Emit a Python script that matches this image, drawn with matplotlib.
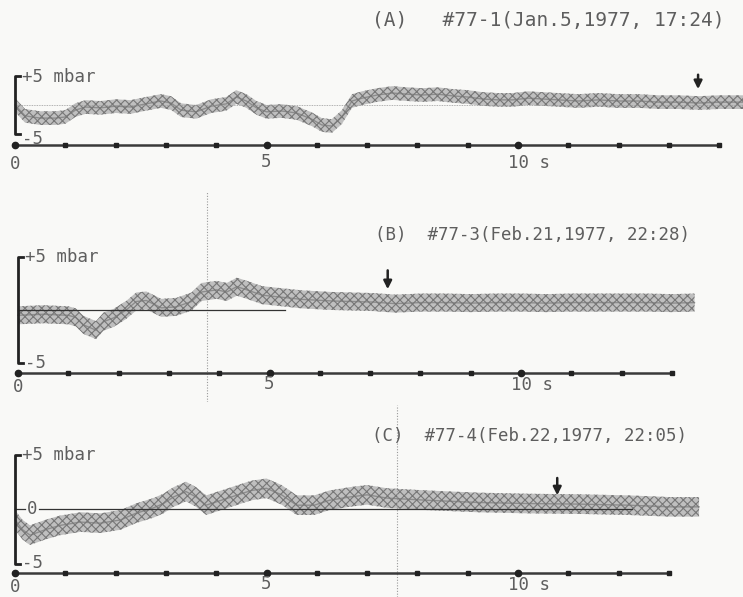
import matplotlib
matplotlib.use("Agg")
import matplotlib.pyplot as plt

# pressure traces (time in s, pressure in mbar)
t_a = [0.0, 0.2, 0.5, 0.8, 1.0, 1.2, 1.4, 1.7, 2.0, 2.3, 2.6, 2.9, 3.1, 3.3, 3.6,
       3.9, 4.2, 4.4, 4.6, 4.8, 5.0, 5.3, 5.6, 5.9, 6.1, 6.3, 6.5, 6.7, 6.9, 7.2,
       7.5, 7.8, 8.1, 8.4, 8.7, 9.0, 9.3, 9.6, 9.9, 10.2, 10.5, 10.8, 11.2, 11.6,
       12.0, 12.4, 12.8, 13.2, 13.6, 14.0, 14.5]
p_a = [0.0, -1.9, -2.3, -2.3, -2.1, -0.9, -0.35, -0.5, -0.2, -0.35, 0.2, 0.7, 0.35,
       -0.9, -1.2, -0.2, 0.2, 1.4, 0.7, -0.5, -1.2, -1.05, -1.4, -2.5, -3.5, -3.7,
       -2.1, 0.7, 1.2, 1.75, 2.1, 1.9, 1.75, 1.9, 1.6, 1.4, 1.05, 0.9, 0.9, 1.2,
       1.05, 0.9, 0.7, 0.9, 0.7, 0.7, 0.5, 0.5, 0.35, 0.5, 0.5]

t_b = [0.0, 0.5, 1.0, 1.15, 1.3, 1.55, 1.7, 1.9, 2.15, 2.35, 2.55, 2.85, 3.15, 3.45,
       3.65, 3.95, 4.15, 4.35, 4.55, 4.85, 5.25, 5.65, 6.25, 7.05, 7.5, 8.0, 8.5,
       9.0, 9.5, 10.0, 10.5, 11.0, 11.5, 12.0, 12.5, 13.0, 13.45]
p_b = [-0.5, -0.4, -0.5, -0.7, -1.4, -1.9, -1.1, -0.75, 0.0, 0.8, 0.9, 0.2, 0.3, 0.8,
       1.7, 1.9, 1.7, 2.2, 1.9, 1.4, 1.2, 1.0, 0.85, 0.75, 0.6, 0.7, 0.7, 0.65, 0.7,
       0.7, 0.65, 0.7, 0.7, 0.7, 0.7, 0.65, 0.7]

t_c = [0.0, 0.15, 0.3, 0.6, 0.9, 1.3, 1.7, 2.1, 2.4, 2.75, 2.95, 3.15, 3.4, 3.6,
       3.8, 4.0, 4.3, 4.7, 5.0, 5.3, 5.6, 5.95, 6.25, 6.65, 7.0, 7.4, 8.2, 9.2,
       10.2, 11.2, 12.2, 13.0, 13.6]
p_c = [-1.0, -1.9, -2.4, -1.9, -1.5, -1.2, -1.3, -1.0, -0.4, 0.1, 0.5, 1.1, 1.6,
       1.1, 0.35, 0.65, 1.1, 1.7, 1.9, 1.3, 0.35, 0.35, 0.8, 1.1, 1.3, 1.0, 0.8,
       0.6, 0.5, 0.45, 0.35, 0.2, 0.2]

titles = ["(A)   #77-1(Jan.5,1977, 17:24)",
          "(B)  #77-3(Feb.21,1977, 22:28)",
          "(C)  #77-4(Feb.22,1977, 22:05)"]
arrow_t = [13.58, 7.35, 10.78]
axis_end = [14, 13, 13]

W, H = 743, 597
PX_PER_S = 50.3
mono = "DejaVu Sans Mono"
ink = "#5e5e5e"

plt.rcParams["hatch.linewidth"] = 0.8
plt.rcParams["hatch.color"] = "#777777"

# per panel: band top/bottom (px), zero line (px), px per mbar, x offset of t=0 (px)
panels = [
    dict(top=0, bot=182, zero=105, k=5.7, off=15, axis_y=-7.0, lab_y=-10.3,
         title_y=14.9, half=1.2, zero_end=14.5, zero_style=":", fold=None, tsize=14),
    dict(top=192, bot=402, zero=310, k=10.6, off=18, axis_y=-5.95, lab_y=-7.3,
         title_y=7.1, half=0.85, zero_end=5.3, zero_style="-", fold=3.76, tsize=12.5),
    dict(top=405, bot=597, zero=509, k=10.9, off=15, axis_y=-5.87, lab_y=-7.2,
         title_y=6.7, half=0.9, zero_end=12.27, zero_style="-", fold=7.6, tsize=12.5),
]
traces = [(t_a, p_a), (t_b, p_b), (t_c, p_c)]

fig = plt.figure(figsize=(W / 100, H / 100), dpi=100)
fig.patch.set_facecolor("#f9f9f7")

for i, pan in enumerate(panels):
    ax = fig.add_axes([0, 1 - pan["bot"] / H, 1, (pan["bot"] - pan["top"]) / H])
    ax.set_xlim(-pan["off"] / PX_PER_S, (W - pan["off"]) / PX_PER_S)
    ax.set_ylim((pan["zero"] - pan["bot"]) / pan["k"], (pan["zero"] - pan["top"]) / pan["k"])
    ax.axis("off")
    ax.patch.set_alpha(0)

    # scan fold line
    if pan["fold"] is not None:
        ax.axvline(pan["fold"], color="#9a9a9a", lw=0.8, ls=(0, (1, 1.5)))

    # the trace itself: a broad hatched grey band
    t, p = traces[i]
    h = pan["half"]
    ax.fill_between(t, [v - h for v in p], [v + h for v in p], facecolor="#bcbcbc",
                    hatch="xxxx", lw=0, alpha=0.95)
    ax.plot(t, p, color="#777777", lw=1.0, alpha=0.7)

    # zero reference line (drawn over the trace, as on the record)
    if i == 2:
        ax.plot([0, 0.2], [0, 0], color="#333", lw=0.9)
        ax.plot([0.48, pan["zero_end"]], [0, 0], color="#333", lw=0.9)
        ax.text(0.34, 0, "0", family=mono, fontsize=12.5, color=ink,
                ha="center", va="center")
    elif pan["zero_style"] == ":":
        ax.plot([0, pan["zero_end"]], [0, 0], color="#999", lw=0.6, ls=(0, (1, 1)))
    else:
        ax.plot([0, pan["zero_end"]], [0, 0], color="#333", lw=0.9)

    # scale bracket
    tick = 5 / PX_PER_S
    ax.plot([tick, 0, 0, tick], [5, 5, -5, -5], color="#222", lw=2.0)
    ax.text(0.14, 5, "+5 mbar", family=mono, fontsize=12.5, color=ink,
            ha="left", va="center")
    ax.text(0.14, -5 - (1.0 if i == 0 else 0), "-5", family=mono, fontsize=12.5,
            color=ink, ha="left", va="center")

    # time axis with one dot per second
    secs = list(range(axis_end[i] + 1))
    ax.plot([0, axis_end[i]], [pan["axis_y"]] * 2, color="#3a3a3a", lw=1.8)
    ax.plot(secs, [pan["axis_y"]] * len(secs), ls="none", marker="s",
            ms=2.5, color="#222")
    ax.plot([0, 5, 10], [pan["axis_y"]] * 3, ls="none", marker="o", ms=4.5, color="#222")
    ax.text(0, pan["lab_y"], "0", family=mono, fontsize=12.5, color=ink,
            ha="center", va="center")
    ax.text(5, pan["lab_y"] + 0.3, "5", family=mono, fontsize=12.5, color=ink,
            ha="center", va="center")
    ax.text(9.8, pan["lab_y"] + 0.2, "10 s", family=mono, fontsize=12.5, color=ink,
            ha="left", va="center")

    # title
    ax.text(7.1, pan["title_y"], titles[i], family=mono, fontsize=pan["tsize"],
            color=ink, ha="left", va="center")

    # event arrow
    a_top = [5.8, 4.0, 3.1][i]
    a_tip = [2.3, 1.7, 1.0][i]
    ax.annotate("", xy=(arrow_t[i], a_tip), xytext=(arrow_t[i], a_top),
                arrowprops=dict(arrowstyle="-|>", color="#222", lw=1.8,
                                mutation_scale=12))

fig.savefig("out.png", dpi=100, facecolor=fig.get_facecolor())
